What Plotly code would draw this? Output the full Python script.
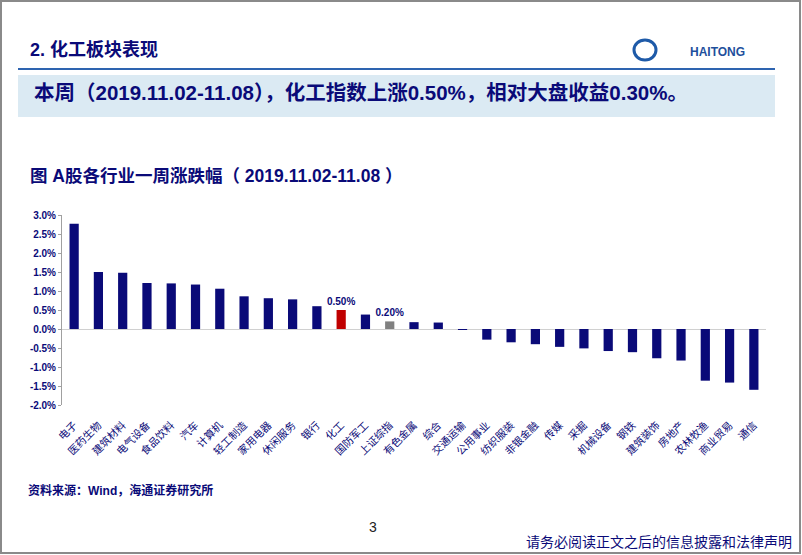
import plotly.graph_objects as go

categories = ["电子", "医药生物", "建筑材料", "电气设备", "食品饮料", "汽车", "计算机", "轻工制造",
              "家用电器", "休闲服务", "银行", "化工", "国防军工", "上证综指", "有色金属", "综合",
              "交通运输", "公用事业", "纺织服装", "非银金融", "传媒", "采掘", "机械设备", "钢铁",
              "建筑装饰", "房地产", "农林牧渔", "商业贸易", "通信"]
values = [2.77, 1.50, 1.48, 1.21, 1.20, 1.17, 1.06, 0.86, 0.81, 0.78, 0.60, 0.50, 0.38, 0.20,
          0.18, 0.17, -0.02, -0.28, -0.35, -0.40, -0.47, -0.51, -0.58, -0.61, -0.77, -0.83,
          -1.36, -1.41, -1.60]
highlight_labels = {"化工": "0.50%", "上证综指": "0.20%"}
y_ticks = [3.0, 2.5, 2.0, 1.5, 1.0, 0.5, 0.0, -0.5, -1.0, -1.5, -2.0]

NAVY = "#0a0a78"
FONT = "Liberation Sans, Noto Sans CJK SC"
colors = []
for c in categories:
    if c == "化工":
        colors.append("#c00000")
    elif c == "上证综指":
        colors.append("#808080")
    else:
        colors.append(NAVY)
texts = [highlight_labels.get(c, "") for c in categories]

W, H = 802, 555
L, R, T, B = 62, 36, 215, 150
PW, PH = W - L - R, H - T - B


def px(x):
    return (x - L) / PW


def py(y):
    return (H - B - y) / PH


fig = go.Figure()
fig.add_trace(go.Bar(
    x=categories, y=values, marker_color=colors, marker_line_width=0,
    text=texts, textposition="outside", cliponaxis=False, constraintext="none",
    textfont=dict(family="Liberation Sans", size=10, color=NAVY, weight="bold"),
    width=0.38,
))

fig.update_layout(
    width=W, height=H, margin=dict(l=L, r=R, t=T, b=B),
    paper_bgcolor="white", plot_bgcolor="white", showlegend=False,
    font=dict(family=FONT, color=NAVY),
    xaxis=dict(tickangle=-45, showline=False, showgrid=False, zeroline=False, ticks="",
               tickfont=dict(family="Noto Sans CJK SC", size=10.5, color=NAVY),
               ticklabelstandoff=11),
    yaxis=dict(range=[-2.0, 3.0], tickvals=y_ticks, ticktext=[f"{v:.1f}%" for v in y_ticks],
               showline=True, linecolor="#a0a0a0", linewidth=1, ticks="outside", ticklen=3,
               tickcolor="#a0a0a0", showgrid=False, zeroline=True, zerolinecolor="#d0d0d0",
               zerolinewidth=1,
               tickfont=dict(family="Liberation Sans", size=10, color=NAVY, weight="bold")),
)

shapes = [
    dict(type="rect", xref="paper", yref="paper", x0=px(1), x1=px(800), y0=py(1), y1=py(553),
         line=dict(color="#8a8a8a", width=2), fillcolor="rgba(0,0,0,0)", layer="below"),
    dict(type="line", xref="paper", yref="paper", x0=px(18), x1=px(775), y0=py(69), y1=py(69),
         line=dict(color="#2e64b0", width=2)),
    dict(type="rect", xref="paper", yref="paper", x0=px(18), x1=px(775), y0=py(75), y1=py(117),
         line=dict(width=0), fillcolor="#dbeaf3", layer="below"),
    dict(type="circle", xref="paper", yref="paper", x0=px(634), x1=px(656), y0=py(40), y1=py(60),
         line=dict(color="#1e5aa8", width=3)),
]
fig.update_layout(shapes=shapes)

ann = [
    dict(text="2. 化工板块表现", x=px(28), y=py(49), xanchor="left", yanchor="middle",
         font=dict(family=FONT, size=18, color=NAVY, weight="bold")),
    dict(text="HAITONG", x=px(688), y=py(52), xanchor="left", yanchor="middle",
         font=dict(family="Liberation Sans", size=12, color="#1e4f9c", weight="bold")),
    dict(text="本周（2019.11.02-11.08），化工指数上涨0.50%，相对大盘收益0.30%。", x=px(32), y=py(92),
         xanchor="left", yanchor="middle",
         font=dict(family=FONT, size=20.5, color=NAVY, weight="bold")),
    dict(text="图 A股各行业一周涨跌幅（ 2019.11.02-11.08 ）", x=px(28), y=py(176),
         xanchor="left", yanchor="middle",
         font=dict(family=FONT, size=17.5, color=NAVY, weight="bold")),
    dict(text="资料来源：Wind，海通证券研究所", x=px(26), y=py(490), xanchor="left", yanchor="middle",
         font=dict(family=FONT, size=12, color=NAVY, weight="bold")),
    dict(text="3", x=px(373), y=py(527), xanchor="center", yanchor="middle",
         font=dict(family="Liberation Sans", size=14, color="#222222")),
    dict(text="请务必阅读正文之后的信息披露和法律声明", x=px(794), y=py(541), xanchor="right",
         yanchor="middle", font=dict(family="Noto Sans CJK SC", size=14, color=NAVY)),
]
for a in ann:
    a.update(xref="paper", yref="paper", showarrow=False)
fig.update_layout(annotations=ann)

fig.write_html("out.html")
